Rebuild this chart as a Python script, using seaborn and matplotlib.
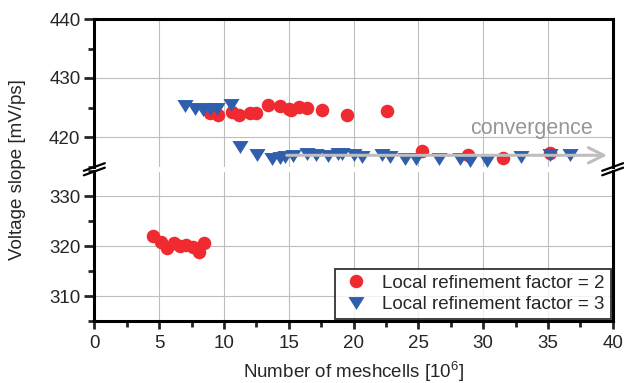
import matplotlib
matplotlib.use("Agg")
import matplotlib.pyplot as plt
from matplotlib.ticker import MultipleLocator, FixedLocator
from matplotlib.lines import Line2D
import seaborn as sns
import pandas as pd
import numpy as np

# ---------------- data ----------------
red_x = [4.55, 5.15, 5.62, 6.15, 6.62, 7.1, 7.62, 8.1, 8.5,
         8.93, 9.58, 10.6, 11.2, 12.0, 12.5, 13.4, 14.3, 15.0, 15.2, 15.8,
         16.4, 17.6, 19.5, 22.6, 25.3, 28.8, 31.5, 35.2]
red_y = [322.1, 320.8, 319.7, 320.7, 320.1, 320.2, 319.8, 318.8, 320.6,
         424.0, 423.8, 424.2, 423.7, 424.0, 424.0, 425.5, 425.3, 424.8, 424.5, 425.1,
         425.0, 424.6, 423.8, 424.4, 417.6, 417.0, 416.5, 417.3]
blue_x = [6.98, 7.76, 8.37, 8.93, 9.45, 10.53,
          11.26, 12.54, 13.7, 14.34, 14.7, 15.37, 16.4, 17.1, 18.07, 18.84, 19.1,
          20.05, 20.65, 22.2, 22.8, 24.0, 24.8, 26.6, 28.2, 29.0, 30.3, 32.9, 35.2, 36.7]
blue_y = [425.2, 424.8, 424.5, 424.8, 424.8, 425.4,
          418.3, 416.9, 416.2, 416.4, 416.6, 416.7, 417.1, 417.0, 416.8, 417.1, 417.2,
          416.9, 416.6, 416.9, 416.6, 416.3, 416.3, 416.3, 416.3, 416.0, 416.0, 416.6, 417.0, 416.9]
labels = ["Local refinement factor = 2", "Local refinement factor = 3"]
x_ticks = [0, 5, 10, 15, 20, 25, 30, 35, 40]
upper_ticks = [420, 430, 440]
lower_ticks = [310, 320, 330]
x_label = "Number of meshcells [10$^{6}$]"
y_label = "Voltage slope [mV/ps]"
note = "convergence"

RED = "#EF2A31"
BLUE = "#2F5EAC"
GRID = "#BEBEBE"

df = pd.concat([
    pd.DataFrame({"x": red_x, "y": red_y, "series": labels[0]}),
    pd.DataFrame({"x": blue_x, "y": blue_y, "series": labels[1]}),
], ignore_index=True)
df["panel"] = np.where(df["y"] > 370, "upper", "lower")

# ---------------- style ----------------
sns.set_style("white")
plt.rcParams["font.family"] = ["Liberation Sans", "DejaVu Sans"]
plt.rcParams["mathtext.fontset"] = "custom"
plt.rcParams["mathtext.rm"] = "Liberation Sans"
plt.rcParams["mathtext.default"] = "regular"
FS = 13.5

W, H = 624, 383
fig = plt.figure(figsize=(W / 100, H / 100), dpi=100)

x_left, x_right = 94.3, 612.7
up_top, up_bot = 19, 166.5
lo_top, lo_bot = 171.5, 321

def rect(top, bot):
    return [x_left / W, 1 - bot / H, (x_right - x_left) / W, (bot - top) / H]

ax_top = fig.add_axes(rect(up_top, up_bot))
ax_bot = fig.add_axes(rect(lo_top, lo_bot))

tri = [(-1, 0.8), (1, 0.8), (0, -0.8)]

for ax, panel in ((ax_top, "upper"), (ax_bot, "lower")):
    sub = df[df["panel"] == panel]
    r = sub[sub["series"] == labels[0]]
    b = sub[sub["series"] == labels[1]]
    sns.scatterplot(data=r, x="x", y="y", ax=ax, color=RED, marker="o", s=95,
                    linewidth=0, label=labels[0], legend=False, clip_on=False, zorder=3)
    sns.scatterplot(data=b, x="x", y="y", ax=ax, color=BLUE, marker=tri, s=135,
                    linewidth=0, label=labels[1], legend=False, clip_on=False, zorder=4)
    ax.set_xlim(0, 40)
    ax.xaxis.set_major_locator(FixedLocator(x_ticks))
    ax.grid(True, which="major", color=GRID, linewidth=0.8)
    ax.set_axisbelow(True)
    for s in ax.spines.values():
        s.set_linewidth(2.2)
        s.set_color("black")
    ax.set_xlabel("")
    ax.set_ylabel("")
    ax.tick_params(axis="y", which="major", direction="out", length=7, width=2,
                   labelsize=FS, pad=3, left=True, right=False)
    ax.tick_params(axis="y", which="minor", direction="out", length=4, width=2,
                   left=True, right=False)
    ax.yaxis.set_minor_locator(MultipleLocator(5))

ax_top.set_ylim(415, 440)
ax_top.yaxis.set_major_locator(FixedLocator(upper_ticks))
ax_top.spines["bottom"].set_visible(False)
ax_top.tick_params(axis="x", which="both", bottom=False, top=False, labelbottom=False)

ax_bot.set_ylim(305, 335)
ax_bot.yaxis.set_major_locator(FixedLocator(lower_ticks))
ax_bot.spines["top"].set_visible(False)
ax_bot.xaxis.set_minor_locator(MultipleLocator(2.5))
ax_bot.tick_params(axis="x", which="major", direction="out", length=6, width=2,
                   labelsize=FS, pad=4, bottom=True, top=False)
ax_bot.tick_params(axis="x", which="minor", direction="out", length=4, width=2,
                   bottom=True, top=False)

# convergence arrow + text
ax_top.annotate("", xy=(39.57, 416.9), xytext=(14.85, 416.9),
                arrowprops=dict(arrowstyle="->,head_length=1.1,head_width=0.55",
                                color="#BEBEBE", lw=2.2, shrinkA=0, shrinkB=0,
                                mutation_scale=10),
                zorder=6, annotation_clip=False)
ax_top.text(33.75, 420.55, note, color="#969696", fontsize=15.5, ha="center",
            va="baseline", zorder=6)

# legend
handles = [
    Line2D([], [], linestyle="none", marker="o", markersize=9.7, color=RED, markeredgewidth=0),
    Line2D([], [], linestyle="none", marker=tri, markersize=11.6, color=BLUE, markeredgewidth=0),
]
leg = ax_bot.legend(handles, labels, loc="lower right", fontsize=FS, frameon=True,
                    fancybox=False, edgecolor="black", borderaxespad=0.1,
                    handletextpad=0.6, labelspacing=0.22, borderpad=0.32,
                    handlelength=1.6)
leg.get_frame().set_linewidth(1.3)
leg.set_zorder(10)

# axis-break marks
def slash(xc, yc):
    dx, dy = 10.5, 3.8
    fig.add_artist(Line2D([(xc - dx) / W, (xc + dx) / W],
                          [1 - (yc + dy) / H, 1 - (yc - dy) / H],
                          color="black", lw=1.6, transform=fig.transFigure))

for xc in (x_left, x_right):
    slash(xc, 167.0)
    slash(xc, 171.5)

# labels
fig.text(18 / W, 1 - 170 / H, y_label, rotation=90, ha="center", va="center", fontsize=FS)
fig.text((x_left + x_right) / 2 / W, 1 - 372 / H, x_label, ha="center", va="center", fontsize=FS)

fig.savefig("out.png", dpi=100)
